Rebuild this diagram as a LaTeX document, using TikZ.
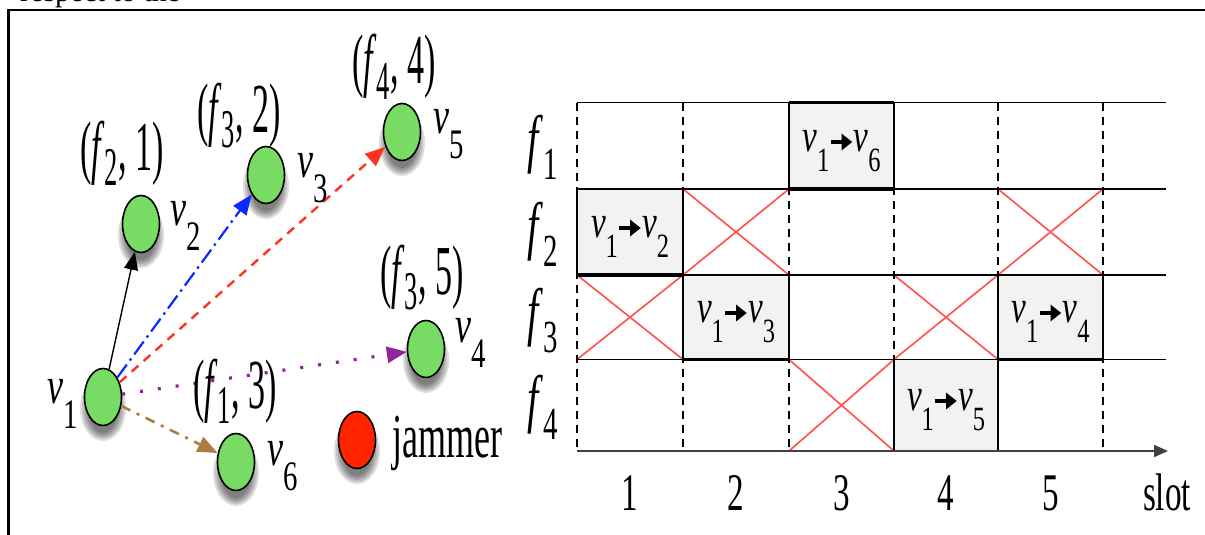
\documentclass[tikz,border=0pt]{standalone}
\usepackage{fontspec}
\setmainfont{Liberation Serif}
\usepackage{graphicx}
\usetikzlibrary{shapes.geometric,arrows.meta,calc,backgrounds}
\definecolor{ngreen}{RGB}{120,220,100}
\definecolor{jred}{RGB}{255,35,0}
\definecolor{eblue}{RGB}{10,40,255}
\definecolor{ered}{RGB}{255,50,30}
\definecolor{epurple}{RGB}{145,35,155}
\definecolor{ebrown}{RGB}{170,125,65}
\definecolor{xred}{RGB}{255,85,85}
\definecolor{cellgray}{RGB}{242,242,242}

\newcommand\SX[3]{\scalebox{#1}[#2]{#3}}
\newcommand\vlab[1]{\SX{0.72}{1.05}{\fontsize{50}{50}\selectfont\textit{v}\raisebox{-0.48em}{\fontsize{40}{40}\selectfont #1}}}
\newcommand\flab[2]{\SX{0.63}{1.3}{\fontsize{54}{54}\selectfont(\textit{f}\raisebox{-0.22em}{\fontsize{42}{42}\selectfont #1},\ #2)}}
\newcommand\glab[1]{\SX{0.72}{1.15}{\fontsize{56}{56}\selectfont\textit{f}\raisebox{-0.3em}{\fontsize{40}{40}\selectfont #1}}}
\newcommand\rarr{\tikz[baseline=-9pt]\draw[line width=3.5pt,-{Triangle[length=15pt,width=16pt]}] (0pt,0pt)--(30pt,0pt);}
\newcommand\clab[1]{\SX{0.72}{1}{\fontsize{46}{46}\selectfont\textit{v}\raisebox{-0.45em}{\fontsize{34}{34}\selectfont 1}\rarr\textit{v}\raisebox{-0.45em}{\fontsize{34}{34}\selectfont #1}}}
\newcommand\tlab[1]{\SX{0.72}{1.15}{\fontsize{46}{46}\selectfont #1}}

\begin{document}
\begin{tikzpicture}[x=1pt,y=-1pt,
  gnode/.style={ellipse, draw=black, line width=1.6pt, fill=ngreen, minimum width=37pt, minimum height=57pt, inner sep=0pt},
  txt/.style={inner sep=0pt, anchor=base west},
  ctxt/.style={inner sep=0pt, anchor=base},
  griddash/.style={line width=1.3pt, dash pattern=on 8pt off 6pt},
  gridline/.style={line width=1.5pt},
  thickedge/.style={line width=3.5pt},
  xmark/.style={xred, line width=1.7pt},
  tip/.style={-{Triangle[length=20pt,width=16pt]}}]
\useasboundingbox (0,0) rectangle (1205,535);

% page text cut at the top
\node[txt] (pagetext) at (20,1.5) {\fontsize{30}{30}\selectfont respect to the};
% frame
\draw[line width=2.5pt] (8.5,545) -- (8.5,10) -- (1215,10);

% ---------- left graph ----------
\node[gnode] (v1) at (103,397) {};
\node[gnode] (v2) at (141,224) {};
\node[gnode] (v3) at (266,175) {};
\node[gnode] (v5) at (402,132) {};
\node[gnode] (v4) at (426,349) {};
\node[gnode] (v6) at (236,462) {};
\node[gnode, fill=jred] (jam) at (357,440) {};

\begin{scope}[on background layer]
\foreach \n in {v1,v2,v3,v4,v5,v6,jam}{
  \foreach \k in {0,2,4,6,8}{
    \fill[black,opacity=0.13] ($(\n)+(0,11)$) ellipse [x radius={15+\k}, y radius={25+\k}];
  }
}
\end{scope}

\draw[line width=1.4pt, -{Triangle[length=18pt,width=14pt]}] (v1) -- (v2);
\draw[eblue, line width=2.2pt, dash pattern=on 16pt off 5pt on 2.5pt off 5pt, tip] (v1) -- (v3);
\draw[ered, line width=2.4pt, dash pattern=on 9pt off 7pt, tip] (v1) -- (v5);
\draw[epurple, line width=3.2pt, dash pattern=on 3pt off 15pt, tip] (v1) -- (v4);
\draw[ebrown, line width=2.6pt, dash pattern=on 10pt off 7pt on 3pt off 7pt, tip] (v1) -- (v6);

\node[txt] (lv1) at (47,403) {\vlab{1}};
\node[txt] (lv2) at (170,225) {\vlab{2}};
\node[txt] (lv3) at (297,177) {\vlab{3}};
\node[txt] (lv5) at (433,133) {\vlab{5}};
\node[txt] (lv4) at (455,342) {\vlab{4}};
\node[txt] (lv6) at (267,465) {\vlab{6}};

\node[txt] (fa) at (80,170) {\flab{2}{1}};
\node[txt] (fb) at (197,132) {\flab{3}{2}};
\node[txt] (fc) at (352,84) {\flab{4}{4}};
\node[txt] (fd) at (380,294) {\flab{3}{5}};
\node[txt] (fe) at (193,408) {\flab{1}{3}};

\node[txt] (jl) at (392,457) {\SX{0.72}{1.25}{\fontsize{50}{50}\selectfont jammer}};

% ---------- right schedule ----------
\fill[cellgray] (789,102.5) rectangle (894,189);
\fill[cellgray] (577,189) rectangle (683,275);
\fill[cellgray] (683,275) rectangle (789,359.5);
\fill[cellgray] (998,275) rectangle (1103,359.5);
\fill[cellgray] (894,359.5) rectangle (998,451);

\foreach \a/\b/\c/\d in {683/189/789/275, 998/189/1103/275, 577/275/683/359.5, 894/275/998/359.5, 789/359.5/894/451}{
  \draw[xmark] (\a,\b) -- (\c,\d) (\a,\d) -- (\c,\b);
}

\foreach \x in {577,683,789,894,998,1103}{
  \draw[griddash] (\x,102.5) -- (\x,451);
}

\draw[line width=1.3pt] (789,102.5) rectangle (894,189);
\draw[line width=1.3pt] (577,189) rectangle (683,275);
\draw[line width=1.3pt] (683,275) rectangle (789,359.5);
\draw[line width=1.3pt] (998,275) rectangle (1103,359.5);
\draw[line width=1.3pt] (894,359.5) rectangle (998,451);

\draw[thickedge] (789,102.5) -- (894,102.5);
\draw[thickedge] (789,189) -- (894,189);
\draw[thickedge] (577,275) -- (683,275);
\draw[line width=2.5pt] (683,189) -- (683,275);
\draw[thickedge] (683,359.5) -- (789,359.5);
\draw[thickedge] (998,359.5) -- (1103,359.5);

\foreach \y in {102.5,189,275,359.5}{
  \draw[gridline] (577,\y) -- (1166,\y);
}
\draw[line width=1.8pt, black!75, -{Triangle[length=14pt,width=12pt]}] (577,451) -- (1168,451);

\node[ctxt] (c6) at (841.5,151) {\clab{6}};
\node[ctxt] (c2) at (630,237) {\clab{2}};
\node[ctxt] (c3) at (736,322) {\clab{3}};
\node[ctxt] (c4) at (1050.5,322) {\clab{4}};
\node[ctxt] (c5) at (946,410) {\clab{5}};

\node[txt] (g1) at (527,160) {\glab{1}};
\node[txt] (g2) at (527,247) {\glab{2}};
\node[txt] (g3) at (527,333) {\glab{3}};
\node[txt] (g4) at (527,420) {\glab{4}};

\node[ctxt] (t1) at (630,510) {\tlab{1}};
\node[ctxt] (t2) at (736,510) {\tlab{2}};
\node[ctxt] (t3) at (841.5,510) {\tlab{3}};
\node[ctxt] (t4) at (946,510) {\tlab{4}};
\node[ctxt] (t5) at (1050.5,510) {\tlab{5}};
\node[ctxt] (tslot) at (1167,510) {\tlab{slot}};
\end{tikzpicture}
\end{document}
